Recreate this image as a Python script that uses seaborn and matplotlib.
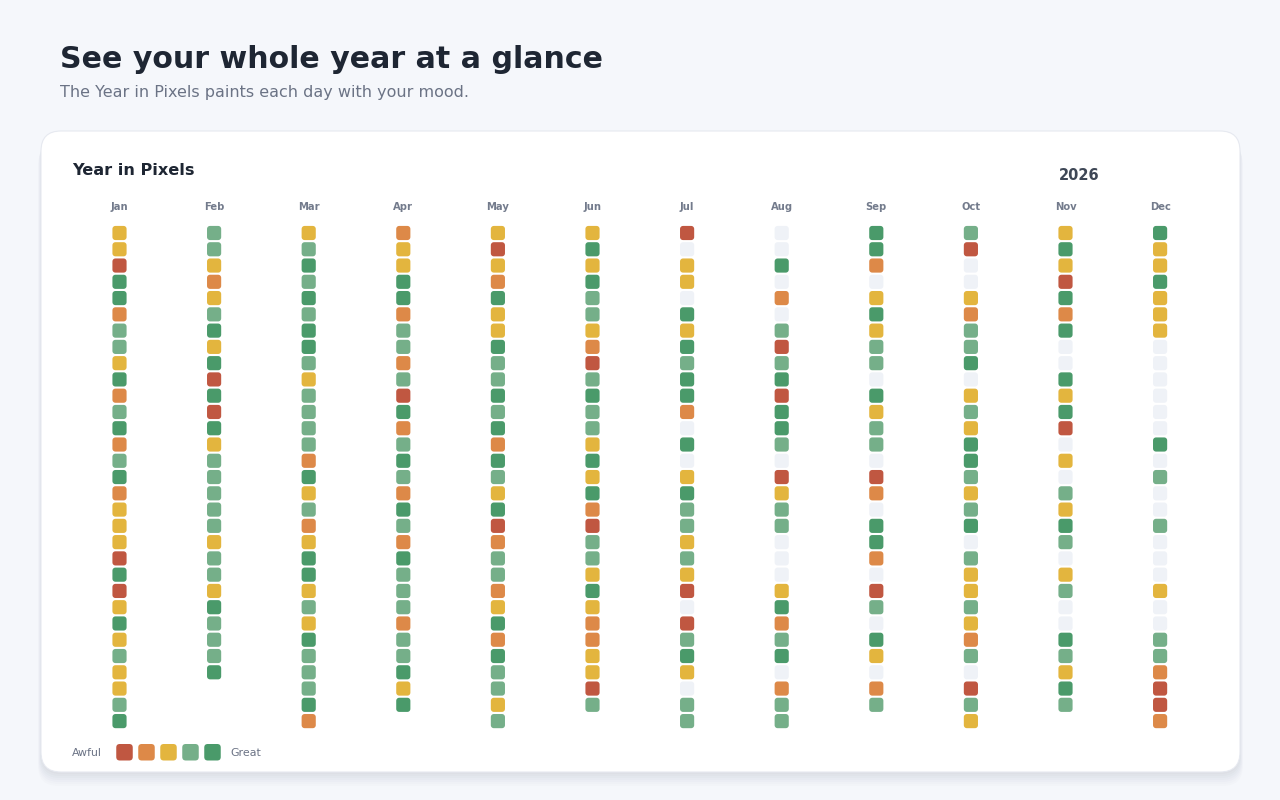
import numpy as np
import pandas as pd
import matplotlib
matplotlib.use("Agg")
import matplotlib.pyplot as plt
from matplotlib.path import Path
from matplotlib.patches import FancyBboxPatch
import seaborn as sns

# mood per day: 0 = not logged, 1 = awful ... 5 = great
months = ["Jan", "Feb", "Mar", "Apr", "May", "Jun",
          "Jul", "Aug", "Sep", "Oct", "Nov", "Dec"]
jan = [3,3,1,5,5,2,4,4,3,5,2,4,5,2,4,5,2,3,3,3,1,5,1,3,5,3,4,3,3,4,5]
feb = [4,4,3,2,3,4,5,3,5,1,5,1,5,3,4,4,4,4,4,3,4,4,3,5,4,4,4,5]
mar = [3,4,5,4,5,4,5,5,4,3,4,4,4,4,2,5,3,4,2,3,5,5,3,4,3,5,4,4,4,5,2]
apr = [2,3,3,5,5,2,4,4,2,4,1,5,2,4,5,4,2,5,4,2,5,4,4,4,2,4,4,5,3,5]
may = [3,1,3,2,5,3,3,5,4,4,5,4,5,2,5,4,3,5,1,2,4,4,2,3,5,2,5,4,4,3,4]
jun = [3,5,3,5,4,4,3,2,1,4,5,4,4,3,5,3,5,2,1,4,4,3,5,3,2,2,3,3,1,4]
jul = [1,0,3,3,0,5,3,5,4,5,5,2,0,5,0,3,5,4,4,3,4,3,1,0,1,4,5,3,0,4,4]
aug = [0,0,5,0,2,0,4,1,4,5,1,5,5,4,0,1,3,4,4,0,0,0,3,5,2,4,5,0,2,4,4]
sep = [5,5,2,0,3,5,3,4,4,0,5,3,4,4,0,1,2,0,5,5,2,0,1,4,0,5,3,0,2,4]
oct_ = [4,1,0,0,3,2,4,4,5,0,3,4,3,5,5,4,3,4,5,0,4,3,3,4,3,2,4,0,1,4,3]
nov = [3,5,3,1,5,2,5,0,0,5,3,5,1,0,3,0,4,3,5,4,0,3,4,0,0,5,4,3,5,4]
dec = [5,3,3,5,3,3,3,0,0,0,0,0,0,5,0,4,0,0,4,0,0,0,3,0,0,4,4,2,1,1,2]
year_data = [jan, feb, mar, apr, may, jun, jul, aug, sep, oct_, nov, dec]

mood_names = ["none", "awful", "bad", "okay", "good", "great"]
mood_colors = ["#EFF2F7", "#C05741", "#DD8948", "#E3B53E", "#75AF89", "#4A9A6A"]

rows = []
for m, vals in enumerate(year_data):
    for d, v in enumerate(vals, start=1):
        rows.append({"month": m, "day": d, "mood": mood_names[v]})
df = pd.DataFrame(rows)


def rounded_square(r=0.21, n=7):
    # unit square marker with rounded corners
    pts = []
    corners = [(0.5 - r, 0.5 - r, 0), (-0.5 + r, 0.5 - r, 90),
               (-0.5 + r, -0.5 + r, 180), (0.5 - r, -0.5 + r, 270)]
    for cx, cy, a0 in corners:
        for t in np.radians(np.linspace(a0, a0 + 90, n)):
            pts.append((cx + r * np.cos(t), cy + r * np.sin(t)))
    pts.append(pts[0])
    codes = [Path.MOVETO] + [Path.LINETO] * (len(pts) - 2) + [Path.CLOSEPOLY]
    return Path(pts, codes)


sns.set_style("white")
plt.rcParams["font.family"] = ["DejaVu Sans"]

W, H = 1280, 800
fig = plt.figure(figsize=(12.8, 8), dpi=100)
fig.patch.set_facecolor("#F5F7FB")

# background axes in pixel coordinates
bg = fig.add_axes([0, 0, 1, 1])
bg.set_xlim(0, W)
bg.set_ylim(H, 0)
bg.axis("off")

# card shadow + card
for i, a in enumerate([0.02, 0.02, 0.018, 0.016, 0.014, 0.012, 0.01]):
    off = 2 + i * 2
    bg.add_patch(FancyBboxPatch((41 - i * 0.5, 131 + off), 1199 + i, 641,
                                boxstyle="round,pad=0,rounding_size=20",
                                fc="#2A3550", ec="none", alpha=a))
bg.add_patch(FancyBboxPatch((41, 131), 1199, 641,
                            boxstyle="round,pad=0,rounding_size=20",
                            fc="white", ec="#E6E9F0", lw=0.8))

bg.text(60, 68, "See your whole year at a glance", fontsize=21.6, fontweight="bold",
        color="#1E2633", va="baseline")
bg.text(60, 97, "The Year in Pixels paints each day with your mood.", fontsize=11.5,
        color="#6B7385", va="baseline")
bg.text(72, 175, "Year in Pixels", fontsize=11.6, fontweight="bold",
        color="#1E2633", va="baseline")
bg.text(1079, 180.5, "2026", fontsize=10.5, fontweight="bold",
        color="#3E4756", va="baseline", ha="center")

# legend
bg.text(72, 755.5, "Awful", fontsize=7.9, color="#6B7385", va="baseline")
for i, c in enumerate(mood_colors[1:]):
    cx = 124.5 + 22 * i
    bg.add_patch(FancyBboxPatch((cx - 8.25, 744), 16.5, 16.5,
                                boxstyle="round,pad=0,rounding_size=3.5",
                                fc=c, ec="none"))
bg.text(230.5, 755.5, "Great", fontsize=7.9, color="#6B7385", va="baseline")

# pixel grid axes
x0, dx = 119.5, 94.6
y0, dy = 233, 16.27
left = (x0 - dx / 2) / W
right = (x0 + 11 * dx + dx / 2) / W
top = 1 - (y0 - dy / 2) / H
bottom = 1 - (y0 + 30 * dy + dy / 2) / H
ax = fig.add_axes([left, bottom, right - left, top - bottom])
ax.set_facecolor("none")

sns.scatterplot(data=df, x="month", y="day", hue="mood", hue_order=mood_names,
                palette=dict(zip(mood_names, mood_colors)), marker=rounded_square(),
                s=104, linewidth=0, legend=False, ax=ax)

ax.set_xlim(-0.5, 11.5)
ax.set_ylim(31.5, 0.5)
ax.set_xticks(range(12))
ax.set_xticklabels(months)
ax.xaxis.tick_top()
ax.tick_params(axis="x", length=0, pad=9.3, labelsize=7.2, labelcolor="#737B8C")
for lbl in ax.get_xticklabels():
    lbl.set_fontweight("bold")
ax.set_yticks([])
ax.set_xlabel("")
ax.set_ylabel("")
for s in ax.spines.values():
    s.set_visible(False)

fig.savefig("out.png", dpi=100, facecolor=fig.get_facecolor())
